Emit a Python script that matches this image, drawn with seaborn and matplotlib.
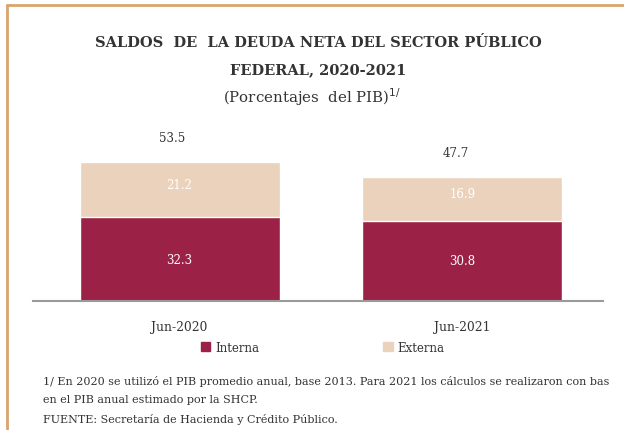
import matplotlib
matplotlib.use("Agg")
import matplotlib.pyplot as plt
import matplotlib.patches as mpatches
from matplotlib.lines import Line2D
import seaborn as sns
import pandas as pd

# datos del grafico
periodos = ["Jun-2020", "Jun-2021"]
interna = [32.3, 30.8]
externa = [21.2, 16.9]
totales = [53.5, 47.7]

color_interna = "#9B2146"
color_externa = "#EBD2BC"
gris_texto = "#333333"

sns.set_theme(style="white")
plt.rcParams['font.family'] = ['DejaVu Serif', 'DejaVu Sans']

df = pd.DataFrame({"periodo": periodos, "interna": interna,
                   "externa": externa, "total": totales})

fig = plt.figure(figsize=(6.24, 4.31), dpi=100)
ax = fig.add_axes([0.053, 0.2993, 0.913, 0.362])

# barra total (externa encima) y luego interna
sns.barplot(data=df, x="periodo", y="total", color=color_externa,
            width=0.707, saturation=1, ax=ax)
sns.barplot(data=df, x="periodo", y="interna", color=color_interna,
            width=0.707, saturation=1, ax=ax)

ax.set_xlim(-0.518, 1.496)
ax.set_ylim(0, 60)
ax.set_xlabel("")
ax.set_ylabel("")
ax.set_yticks([])
ax.tick_params(axis="x", length=0, pad=14, labelsize=8.8, labelcolor=gris_texto)
for s in ["top", "left", "right"]:
    ax.spines[s].set_visible(False)
ax.spines["bottom"].set_color("#9A9A9A")
ax.spines["bottom"].set_linewidth(1.5)

for i in range(len(periodos)):
    ax.text(i, interna[i] / 2, f"{interna[i]:.1f}", ha="center", va="center",
            color="white", fontsize=8.5)
    ax.text(i, interna[i] + externa[i] / 2 + 2, f"{externa[i]:.1f}", ha="center",
            va="center", color="white", fontsize=8.5)
    ax.annotate(f"{totales[i]:.1f}", (i - 0.025, totales[i]), xytext=(0, 13),
                textcoords="offset points", ha="center", va="bottom",
                color=gris_texto, fontsize=8.5)

# titulo
fig.text(0.51, 0.900, "SALDOS  DE  LA DEUDA NETA DEL SECTOR PÚBLICO",
         ha="center", va="center", fontsize=10.5, fontweight="bold", color=gris_texto)
fig.text(0.51, 0.838, "FEDERAL, 2020-2021", ha="center", va="center",
         fontsize=10.5, fontweight="bold", color=gris_texto)
fig.text(0.5, 0.775, "(Porcentajes  del PIB)$^{1/}$", ha="center", va="center",
         fontsize=10.8, color=gris_texto)

# leyenda
handles = [mpatches.Patch(color=color_interna, label="Interna"),
           mpatches.Patch(color=color_externa, label="Externa")]
fig.legend(handles=handles, loc="center", bbox_to_anchor=(0.517, 0.192), ncol=2,
           frameon=False, fontsize=8.5, handlelength=0.8, handleheight=0.8,
           handletextpad=0.4, columnspacing=10.5, labelcolor=gris_texto)

# notas (la primera linea aparece cortada en el original)
notas = ["1/ En 2020 se utilizó el PIB promedio anual, base 2013. Para 2021 los cálculos se realizaron con bas",
         "en el PIB anual estimado por la SHCP.",
         "FUENTE: Secretaría de Hacienda y Crédito Público."]
ys = [0.116, 0.072, 0.027]
for t, y in zip(notas, ys):
    fig.text(0.069, y, t, ha="left", va="center", fontsize=8.05, color=gris_texto)

# borde
borde = "#D9A46E"
fig.add_artist(Line2D([0.011, 1.0], [0.986, 0.986], transform=fig.transFigure,
                      color=borde, lw=2))
fig.add_artist(Line2D([0.011, 0.011], [0.0, 0.986], transform=fig.transFigure,
                      color=borde, lw=2))

fig.savefig("out.png", dpi=100)
